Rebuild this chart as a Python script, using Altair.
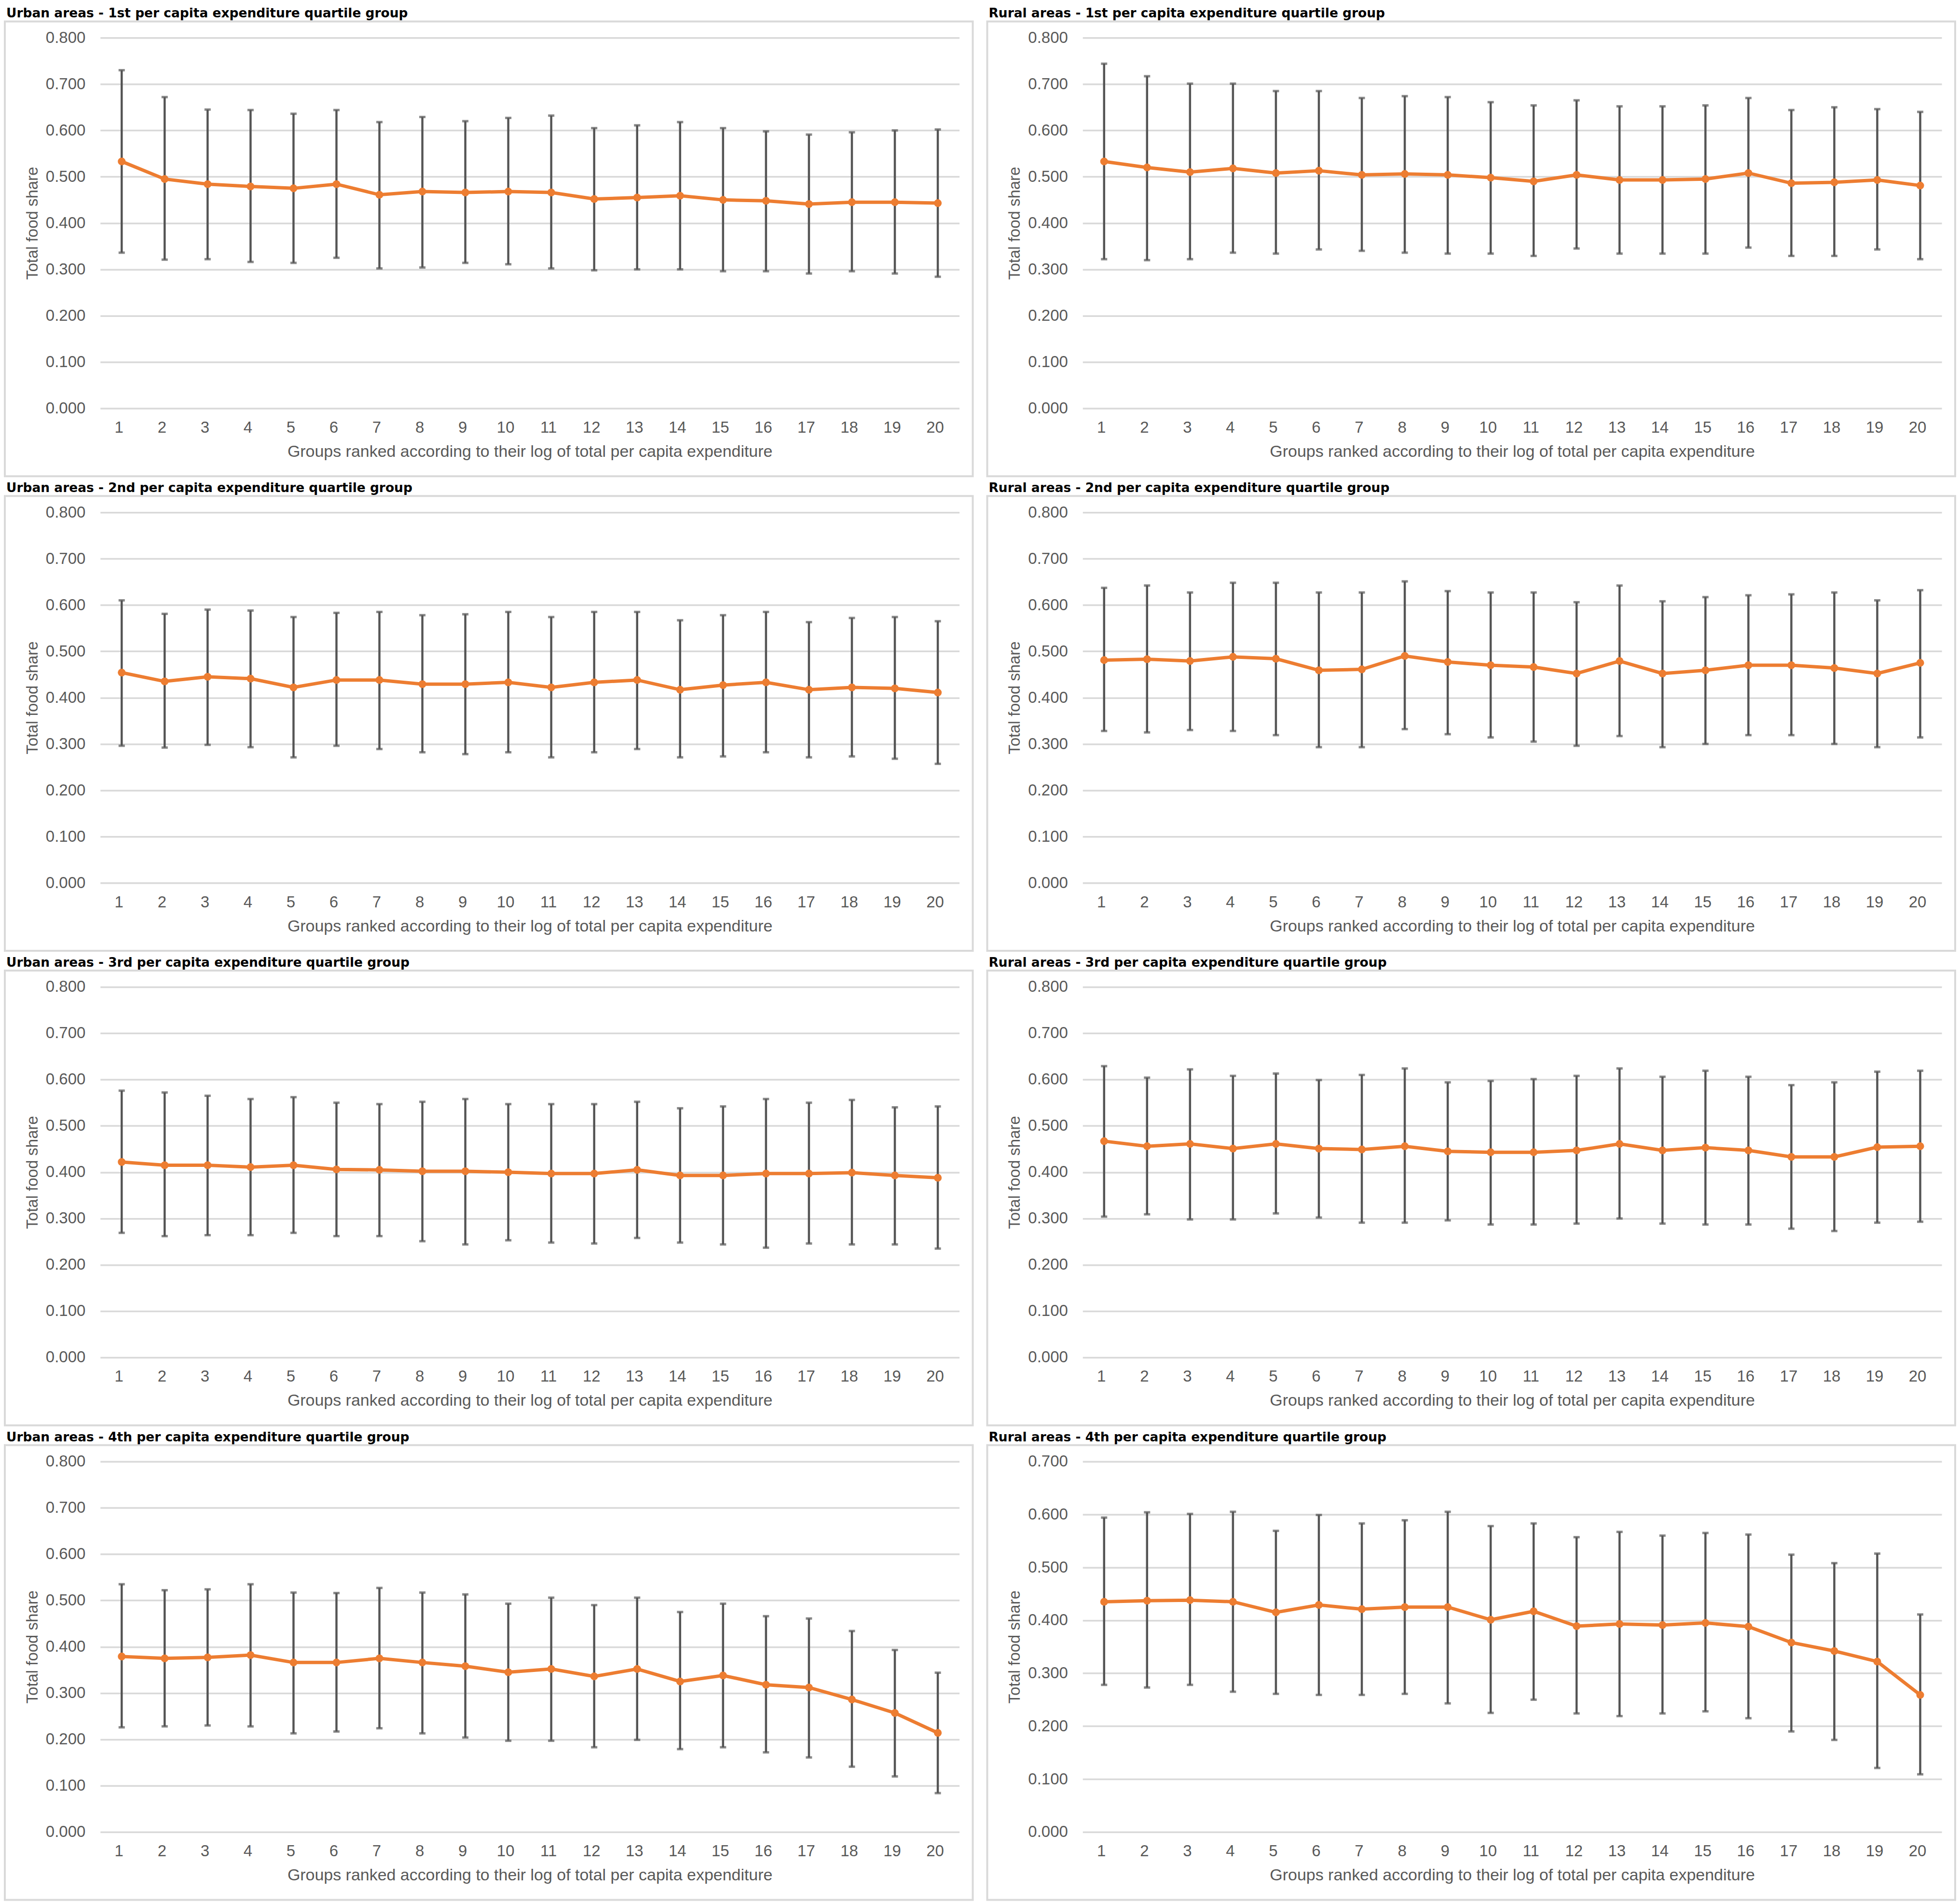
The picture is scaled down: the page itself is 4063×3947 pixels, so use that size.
import altair as alt
import pandas as pd

FONT = "Liberation Sans"
TITLE_FONT = "DejaVu Sans"
W, H = 1783, 769

groups = list(range(1, 21))

x_title = "Groups ranked according to their log of total per capita expenditure"
y_title = "Total food share"

ticks_08 = [0.0, 0.1, 0.2, 0.3, 0.4, 0.5, 0.6, 0.7, 0.8]
ticks_07 = [0.0, 0.1, 0.2, 0.3, 0.4, 0.5, 0.6, 0.7]

# urban areas
urban_q1_mean = [0.533, 0.495, 0.484, 0.479, 0.475, 0.484, 0.461, 0.468, 0.466, 0.468,
                 0.466, 0.452, 0.455, 0.459, 0.450, 0.448, 0.441, 0.445, 0.445, 0.443]
urban_q1_low = [0.336, 0.321, 0.322, 0.316, 0.314, 0.325, 0.302, 0.304, 0.314, 0.311,
                0.302, 0.298, 0.300, 0.300, 0.296, 0.296, 0.291, 0.296, 0.291, 0.284]
urban_q1_high = [0.730, 0.672, 0.645, 0.644, 0.636, 0.644, 0.618, 0.629, 0.620, 0.627,
                 0.632, 0.605, 0.611, 0.618, 0.605, 0.598, 0.591, 0.596, 0.600, 0.602]

urban_q2_mean = [0.454, 0.435, 0.445, 0.441, 0.422, 0.438, 0.438, 0.429, 0.429, 0.433,
                 0.422, 0.433, 0.438, 0.417, 0.427, 0.433, 0.417, 0.422, 0.420, 0.411]
urban_q2_low = [0.296, 0.292, 0.298, 0.293, 0.271, 0.296, 0.289, 0.282, 0.278, 0.282,
                0.271, 0.282, 0.289, 0.271, 0.273, 0.282, 0.271, 0.273, 0.268, 0.257]
urban_q2_high = [0.610, 0.581, 0.590, 0.588, 0.574, 0.583, 0.585, 0.578, 0.580, 0.585,
                 0.574, 0.585, 0.585, 0.567, 0.578, 0.585, 0.563, 0.572, 0.574, 0.565]

urban_q3_mean = [0.422, 0.415, 0.415, 0.411, 0.415, 0.406, 0.405, 0.402, 0.402, 0.400,
                 0.397, 0.397, 0.405, 0.393, 0.393, 0.397, 0.397, 0.399, 0.393, 0.388]
urban_q3_low = [0.269, 0.262, 0.264, 0.264, 0.269, 0.262, 0.262, 0.251, 0.244, 0.253,
                0.248, 0.246, 0.258, 0.248, 0.244, 0.237, 0.246, 0.244, 0.244, 0.235]
urban_q3_high = [0.576, 0.572, 0.565, 0.558, 0.562, 0.550, 0.547, 0.552, 0.558, 0.547,
                 0.547, 0.547, 0.552, 0.538, 0.542, 0.558, 0.550, 0.556, 0.540, 0.542]

urban_q4_mean = [0.379, 0.375, 0.377, 0.382, 0.366, 0.366, 0.375, 0.366, 0.358, 0.345,
                 0.352, 0.336, 0.352, 0.325, 0.338, 0.318, 0.312, 0.286, 0.257, 0.214]
urban_q4_low = [0.226, 0.228, 0.230, 0.228, 0.213, 0.217, 0.224, 0.213, 0.204, 0.197,
                0.197, 0.183, 0.199, 0.179, 0.183, 0.172, 0.161, 0.141, 0.120, 0.084]
urban_q4_high = [0.535, 0.522, 0.524, 0.535, 0.517, 0.516, 0.527, 0.517, 0.513, 0.493,
                 0.506, 0.490, 0.506, 0.475, 0.493, 0.466, 0.461, 0.434, 0.393, 0.344]

# rural areas
rural_q1_mean = [0.533, 0.520, 0.510, 0.518, 0.508, 0.513, 0.504, 0.506, 0.504, 0.498,
                 0.490, 0.504, 0.493, 0.493, 0.495, 0.508, 0.486, 0.488, 0.493, 0.481]
rural_q1_low = [0.322, 0.320, 0.322, 0.336, 0.334, 0.343, 0.340, 0.336, 0.334, 0.334,
                0.329, 0.345, 0.334, 0.334, 0.334, 0.347, 0.329, 0.329, 0.343, 0.322]
rural_q1_high = [0.744, 0.717, 0.701, 0.701, 0.685, 0.685, 0.670, 0.674, 0.672, 0.661,
                 0.654, 0.665, 0.652, 0.652, 0.654, 0.670, 0.644, 0.650, 0.646, 0.640]

rural_q2_mean = [0.481, 0.483, 0.479, 0.488, 0.484, 0.459, 0.461, 0.490, 0.477, 0.470,
                 0.466, 0.452, 0.479, 0.452, 0.459, 0.470, 0.470, 0.464, 0.452, 0.475]
rural_q2_low = [0.328, 0.325, 0.330, 0.328, 0.319, 0.293, 0.293, 0.332, 0.321, 0.314,
                0.305, 0.296, 0.317, 0.293, 0.300, 0.319, 0.319, 0.300, 0.293, 0.314]
rural_q2_high = [0.637, 0.642, 0.627, 0.648, 0.648, 0.627, 0.627, 0.651, 0.630, 0.627,
                 0.627, 0.606, 0.642, 0.608, 0.617, 0.621, 0.623, 0.627, 0.610, 0.632]

rural_q3_mean = [0.467, 0.456, 0.461, 0.451, 0.461, 0.451, 0.449, 0.456, 0.445, 0.443,
                 0.443, 0.447, 0.461, 0.447, 0.453, 0.447, 0.433, 0.433, 0.454, 0.456]
rural_q3_low = [0.304, 0.309, 0.298, 0.298, 0.311, 0.302, 0.291, 0.291, 0.296, 0.287,
                0.287, 0.289, 0.300, 0.289, 0.287, 0.287, 0.278, 0.273, 0.291, 0.293]
rural_q3_high = [0.629, 0.604, 0.622, 0.608, 0.613, 0.599, 0.610, 0.624, 0.594, 0.597,
                 0.601, 0.608, 0.624, 0.606, 0.619, 0.606, 0.588, 0.594, 0.617, 0.619]

rural_q4_mean = [0.435, 0.437, 0.438, 0.435, 0.415, 0.429, 0.421, 0.425, 0.425, 0.401,
                 0.417, 0.389, 0.393, 0.391, 0.395, 0.388, 0.358, 0.342, 0.322, 0.259]
rural_q4_low = [0.278, 0.273, 0.278, 0.265, 0.261, 0.259, 0.259, 0.261, 0.243, 0.225,
                0.250, 0.224, 0.219, 0.224, 0.228, 0.215, 0.190, 0.174, 0.121, 0.109]
rural_q4_high = [0.594, 0.604, 0.601, 0.605, 0.569, 0.599, 0.583, 0.589, 0.605, 0.578,
                 0.583, 0.557, 0.567, 0.560, 0.565, 0.562, 0.524, 0.508, 0.526, 0.411]

panels = [
    ("Urban areas - 1st per capita expenditure quartile group", urban_q1_mean, urban_q1_low, urban_q1_high, ticks_08),
    ("Rural areas - 1st per capita expenditure quartile group", rural_q1_mean, rural_q1_low, rural_q1_high, ticks_08),
    ("Urban areas - 2nd per capita expenditure quartile group", urban_q2_mean, urban_q2_low, urban_q2_high, ticks_08),
    ("Rural areas - 2nd per capita expenditure quartile group", rural_q2_mean, rural_q2_low, rural_q2_high, ticks_08),
    ("Urban areas - 3rd per capita expenditure quartile group", urban_q3_mean, urban_q3_low, urban_q3_high, ticks_08),
    ("Rural areas - 3rd per capita expenditure quartile group", rural_q3_mean, rural_q3_low, rural_q3_high, ticks_08),
    ("Urban areas - 4th per capita expenditure quartile group", urban_q4_mean, urban_q4_low, urban_q4_high, ticks_08),
    ("Rural areas - 4th per capita expenditure quartile group", rural_q4_mean, rural_q4_low, rural_q4_high, ticks_07),
]

BAR_GREY = "#555555"
ORANGE = "#ED7D31"


def _panel(title, mean, low, high, ticks) -> alt.LayerChart:
    df = pd.DataFrame({"group": groups, "mean": mean, "low": low, "high": high})
    one = pd.DataFrame({"k": [0]})

    scale = alt.Scale(domain=[ticks[0], ticks[-1]], nice=False)
    axis = alt.Axis(values=ticks, format=".3f")

    def y(field):
        return alt.Y(f"{field}:Q", title=y_title, scale=scale, axis=axis)

    base = alt.Chart(df).encode(
        alt.X("group:O", title=x_title, scale=alt.Scale(type="point", padding=0.5),
              axis=alt.Axis(labelAngle=0, labelOffset=-6))
    )

    # light grey box round the plot, like the Excel chart area
    frame = alt.Chart(one).mark_rect(fill="white", fillOpacity=0, stroke="#d9d9d9", strokeWidth=4).encode(
        x=alt.value(-198), x2=alt.value(W + 28), y=alt.value(-34), y2=alt.value(H + 141)
    )
    label = alt.Chart(one).mark_text(
        align="left", baseline="alphabetic", font=TITLE_FONT, fontSize=26.5, fontWeight="bold", color="black"
    ).encode(x=alt.value(-195), y=alt.value(-42), text=alt.value(title))

    bars = base.mark_rule(color=BAR_GREY, strokeWidth=4.5).encode(y("low"), y2="high:Q")
    cap_hi = base.mark_tick(color=BAR_GREY, size=13, thickness=5, orient="horizontal").encode(y("high"))
    cap_lo = base.mark_tick(color=BAR_GREY, size=13, thickness=5, orient="horizontal").encode(y("low"))
    line = base.mark_line(color=ORANGE, strokeWidth=7).encode(y("mean"))
    dots = base.mark_circle(color=ORANGE, size=260, opacity=1).encode(y("mean"))

    return alt.layer(frame, bars, cap_hi, cap_lo, line, dots, label).properties(width=W, height=H)


rows = []
for i in range(0, len(panels), 2):
    rows.append(alt.hconcat(_panel(*panels[i]), _panel(*panels[i + 1]), spacing=26))

chart = alt.vconcat(*rows, spacing=10).properties(
    padding={"top": 5, "left": 0, "right": 0, "bottom": 0}, background="white"
).configure_view(
    strokeWidth=0
).configure_axis(
    labelFont=FONT, labelFontSize=33, labelColor="#595959",
    titleFont=FONT, titleFontSize=33, titleColor="#595959", titleFontWeight="normal",
    ticks=False, tickSize=0, domain=False, gridColor="#d9d9d9", gridWidth=3.5,
).configure_axisX(
    grid=False, labelPadding=24, titlePadding=16, titleFontSize=34
).configure_axisY(
    grid=True, labelPadding=31, titlePadding=10
)

chart.save("out.html", embed_options={"renderer": "svg", "actions": False})
